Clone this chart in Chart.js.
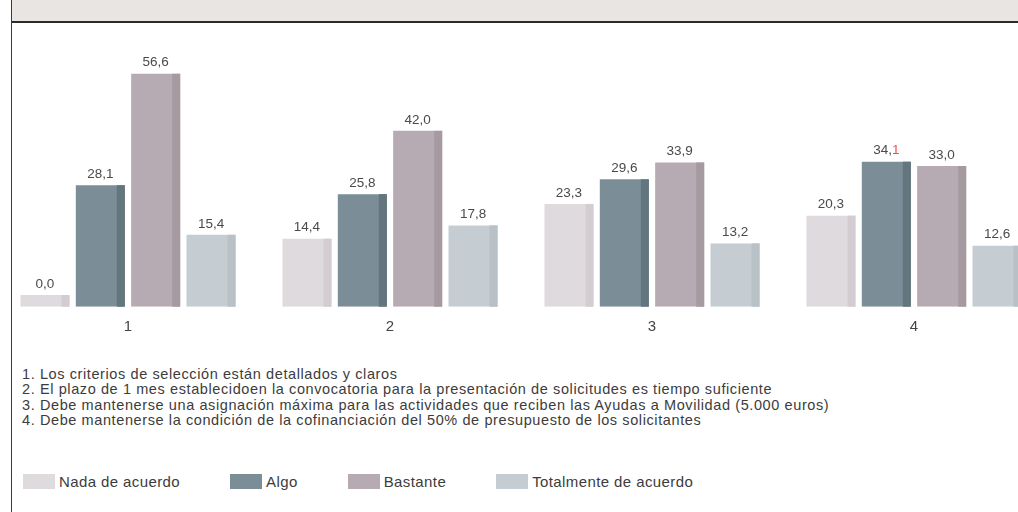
<!DOCTYPE html>
<html lang="es">
<head>
<meta charset="utf-8">
<script src="https://cdn.jsdelivr.net/npm/chart.js@4.4.1/dist/chart.umd.min.js"></script>
<style>
  html, body {
    margin: 0;
    padding: 0;
    width: 1018px;
    height: 512px;
    overflow: hidden;
    background: #fff;
    font-family: "Liberation Sans", Arial, sans-serif;
  }
  .frame {
    position: absolute;
    left: 11px;
    top: 0;
    width: 1px;
    height: 512px;
    background: #3a3a3a;
  }
  .banner {
    position: absolute;
    left: 12px;
    top: 0;
    right: 0;
    height: 21px;
    background: #e8e5e2;
    border-bottom: 2px solid #2a2a2a;
  }
  .chart-box {
    position: absolute;
    left: -3px;
    top: 30px;
    width: 1048px;
    height: 320px;
  }
  .notes {
    position: absolute;
    left: 22px;
    top: 367px;
    font-size: 14.5px;
    letter-spacing: 0.6px;
    line-height: 15.3px;
    color: #3c3c3c;
    white-space: nowrap;
  }
  .legend {
    position: absolute;
    left: 23px;
    top: 473px;
    display: flex;
    align-items: center;
    font-size: 15px;
    letter-spacing: 0.4px;
    color: #3c3c3c;
    white-space: nowrap;
  }
  .legend-item {
    display: flex;
    align-items: center;
    margin-right: 50px;
  }
  .legend-swatch {
    width: 32px;
    height: 15px;
    margin-right: 4px;
  }
</style>
</head>
<body>
<div class="frame"></div>
<div class="banner"></div>
<div class="chart-box"><canvas id="graphic"></canvas></div>
<div class="notes"></div>
<div class="legend"></div>

<script>
const categories = ["1", "2", "3", "4"];
const seriesNames = ["Nada de acuerdo", "Algo", "Bastante", "Totalmente de acuerdo"];
const nadaValues = [0.0, 14.4, 23.3, 20.3];
const algoValues = [28.1, 25.8, 29.6, 34.1];
const bastanteValues = [56.6, 42.0, 33.9, 33.0];
const totalmenteValues = [15.4, 17.8, 13.2, 12.6];
const notes = [
  "1. Los criterios de selección están detallados y claros",
  "2. El plazo de 1 mes establecidoen la convocatoria para la presentación de solicitudes es tiempo suficiente",
  "3. Debe mantenerse una asignación máxima para las actividades que reciben las Ayudas a Movilidad (5.000 euros)",
  "4. Debe mantenerse la condición de la cofinanciación del 50% de presupuesto de los solicitantes",
];

const seriesColors = ["#dedadd", "#7b8e97", "#b7abb3", "#c5cdd3"];
const sideColors = ["#d3cdd1", "#62767e", "#a69aa1", "#b8c1c6"];
const yMin = -3;
const yMax = 67.8;
// the "1" of 34,1 shows in red in the original
const redDigit = { series: 1, index: 3 };

const allValues = [nadaValues, algoValues, bastanteValues, totalmenteValues];

function formatValue(v) {
  return v.toFixed(1).replace(".", ",");
}

// notes + legend
const notesElement = document.querySelector(".notes");
notes.forEach((line) => {
  const div = document.createElement("div");
  div.textContent = line;
  notesElement.appendChild(div);
});

const legendElement = document.querySelector(".legend");
seriesNames.forEach((name, i) => {
  const item = document.createElement("div");
  item.className = "legend-item";
  const swatch = document.createElement("span");
  swatch.className = "legend-swatch";
  swatch.style.background = seriesColors[i];
  const text = document.createElement("span");
  text.textContent = name;
  item.appendChild(swatch);
  item.appendChild(text);
  legendElement.appendChild(item);
});

// darker right strip on each bar + value labels
const barSidePlugin = {
  id: "barSide",
  afterDatasetsDraw(chart) {
    const ctx = chart.ctx;
    ctx.save();
    chart.data.datasets.forEach((ds, i) => {
      const meta = chart.getDatasetMeta(i);
      meta.data.forEach((bar, j) => {
        const { x, y, base, width } = bar.getProps(["x", "y", "base", "width"], true);
        ctx.fillStyle = sideColors[i];
        ctx.fillRect(x + width / 2 - 8, y, 8, base - y);

        const label = formatValue(ds.data[j]);
        ctx.font = "13.5px 'Liberation Sans', Arial, sans-serif";
        ctx.textBaseline = "middle";
        const ly = y - 11;
        if (i === redDigit.series && j === redDigit.index) {
          const head = label.slice(0, -1);
          const tail = label.slice(-1);
          const w = ctx.measureText(label).width;
          const startX = x - w / 2;
          ctx.textAlign = "left";
          ctx.fillStyle = "#4a4a4a";
          ctx.fillText(head, startX, ly);
          ctx.fillStyle = "#f0504c";
          ctx.fillText(tail, startX + ctx.measureText(head).width, ly);
        } else {
          ctx.textAlign = "center";
          ctx.fillStyle = "#4a4a4a";
          ctx.fillText(label, x, ly);
        }
      });
    });
    ctx.restore();
  },
};

const graphicElement = document.getElementById("graphic");

new Chart(graphicElement, {
  type: "bar",
  data: {
    labels: categories,
    datasets: allValues.map((values, i) => ({
      label: seriesNames[i],
      data: values,
      backgroundColor: seriesColors[i],
      borderWidth: 0,
      base: yMin,
      categoryPercentage: 0.845,
      barPercentage: 0.886,
    })),
  },
  options: {
    responsive: true,
    maintainAspectRatio: false,
    animation: false,
    layout: { padding: 0 },
    plugins: {
      legend: { display: false },
      tooltip: { enabled: false },
    },
    scales: {
      x: {
        grid: { display: false, drawTicks: false },
        border: { display: false },
        ticks: {
          padding: 11,
          color: "#444",
          font: { family: "'Liberation Sans', Arial, sans-serif", size: 15 },
        },
        afterFit: (scale) => {
          scale.height = 43.3;
        },
      },
      y: {
        display: false,
        min: yMin,
        max: yMax,
      },
    },
  },
  plugins: [barSidePlugin],
});
</script>
</body>
</html>
